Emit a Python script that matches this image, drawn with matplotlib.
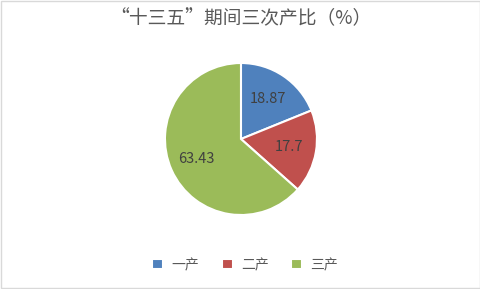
import matplotlib.pyplot as plt
from matplotlib.patches import Rectangle

plt.rcParams['font.family'] = ['Noto Sans CJK SC', 'DejaVu Sans']

# Data
categories = ["一产", "二产", "三产"]
values = [18.87, 17.7, 63.43]
colors = ["#4F81BD", "#C0504D", "#9BBB59"]

fig = plt.figure(figsize=(4.81, 2.89), dpi=100)
fig.patch.set_facecolor("white")
fig.patches.append(Rectangle((0.002, 0.003), 0.996, 0.994, transform=fig.transFigure,
                             fill=False, edgecolor="#D9D9D9", linewidth=1))

ax = fig.add_axes([0.343, 0.256, 0.316, 0.526])

labels_iter = iter(values)
wedges, texts, autotexts = ax.pie(
    values,
    colors=colors,
    startangle=90,
    counterclock=False,
    autopct=lambda p: f"{next(labels_iter):g}",
    pctdistance=0.64,
    wedgeprops=dict(edgecolor="white", linewidth=1.5),
    textprops=dict(color="#404040", fontsize=10.5),
)
ax.set_xlim(-1, 1)
ax.set_ylim(-1, 1)
ax.set_aspect("equal")

fig.text(0.5, 0.935, "“十三五”期间三次产比（%）", ha="center", va="center",
         fontsize=13.5, color="#595959")

fig.legend(wedges, categories, loc="center", bbox_to_anchor=(0.51, 0.083),
           ncol=3, frameon=False, fontsize=10, handlelength=0.8, handleheight=0.8,
           handletextpad=0.6, columnspacing=1.6, labelcolor="#595959")

fig.savefig("out.png", dpi=100)
